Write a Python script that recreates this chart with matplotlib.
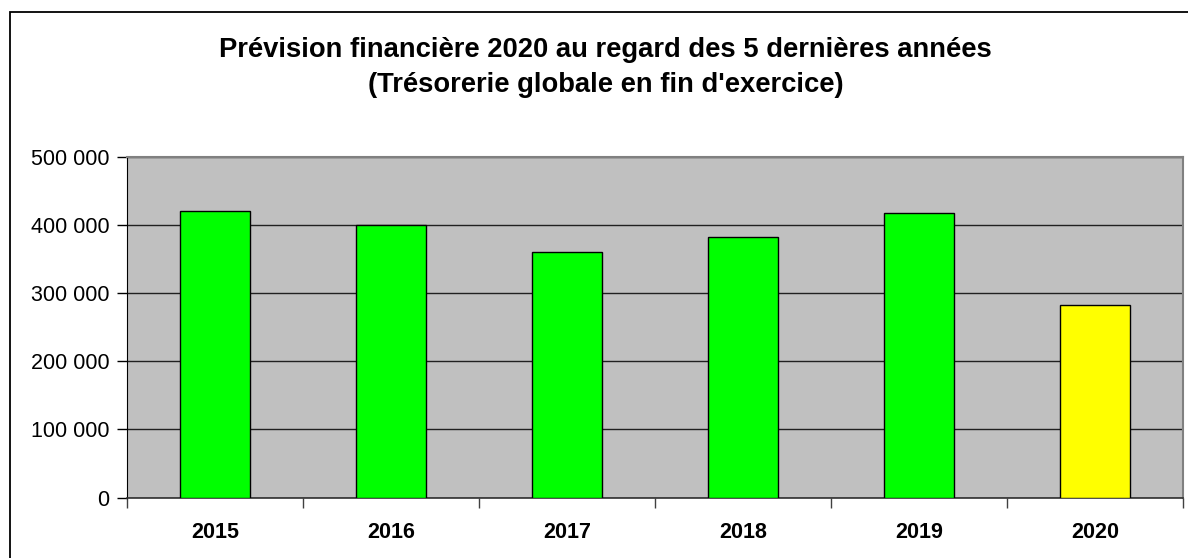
import numpy as np
import matplotlib
matplotlib.use("Agg")
import matplotlib.pyplot as plt
from matplotlib.ticker import FuncFormatter, FixedLocator
from matplotlib.patches import Rectangle

years = ["2015", "2016", "2017", "2018", "2019", "2020"]
tresorerie = [421400, 400300, 360500, 382900, 418400, 282300]
bar_colors = ["#00FF00", "#00FF00", "#00FF00", "#00FF00", "#00FF00", "#FFFF00"]
title_lines = ["Prévision financière 2020 au regard des 5 dernières années",
               "(Trésorerie globale en fin d'exercice)"]

plt.rcParams["font.family"] = ["Liberation Sans", "DejaVu Sans"]


def fmt_space(v, pos):
    return "{:,.0f}".format(v).replace(",", " ")


def main():
    fig = plt.figure(figsize=(11.88, 5.58), dpi=100)
    W, H = 1188, 558

    # outer chart border (cut off on right and bottom like the original)
    fig.patches.append(Rectangle((10 / W, -0.1), 1.2, 1 - 12 / H + 0.1,
                                 transform=fig.transFigure, fill=False,
                                 edgecolor="black", linewidth=1.3))

    ax = fig.add_axes([127 / W, 1 - 497.5 / H, (1183 - 127) / W, (497.5 - 157) / H])
    ax.set_facecolor("#C0C0C0")

    x = np.arange(len(years))
    ax.bar(x, tresorerie, width=0.4, color=bar_colors, edgecolor="black",
           linewidth=1.0, zorder=3)

    ax.set_xlim(-0.5, len(years) - 0.5)
    ax.set_ylim(0, 500000)
    ax.set_yticks(np.arange(0, 500001, 100000))
    ax.yaxis.set_major_formatter(FuncFormatter(fmt_space))
    ax.grid(axis="y", color="#202020", linewidth=1.0, zorder=1)

    ax.set_xticks(x)
    ax.set_xticklabels(years, fontweight="bold", fontsize=15.5)
    ax.xaxis.set_minor_locator(FixedLocator(np.arange(-0.5, len(years), 1.0)))
    ax.tick_params(axis="x", which="major", length=0, pad=18)
    ax.tick_params(axis="x", which="minor", length=7, width=1, color="#404040", direction="out")
    ax.tick_params(axis="y", length=7, width=1, pad=5.5, labelsize=15.5, direction="out")

    for side in ["top", "right"]:
        ax.spines[side].set_color("#808080")
        ax.spines[side].set_linewidth(1.5)
    ax.spines["left"].set_color("black")
    ax.spines["bottom"].set_color("#303030")
    ax.spines["bottom"].set_linewidth(1.2)

    fig.text(605 / W, 1 - 57 / H, title_lines[0], ha="center", va="baseline",
             fontsize=19.7, fontweight="bold")
    fig.text(606 / W, 1 - 92 / H, title_lines[1], ha="center", va="baseline",
             fontsize=19.7, fontweight="bold")

    fig.savefig("out.png", dpi=100)


main()
